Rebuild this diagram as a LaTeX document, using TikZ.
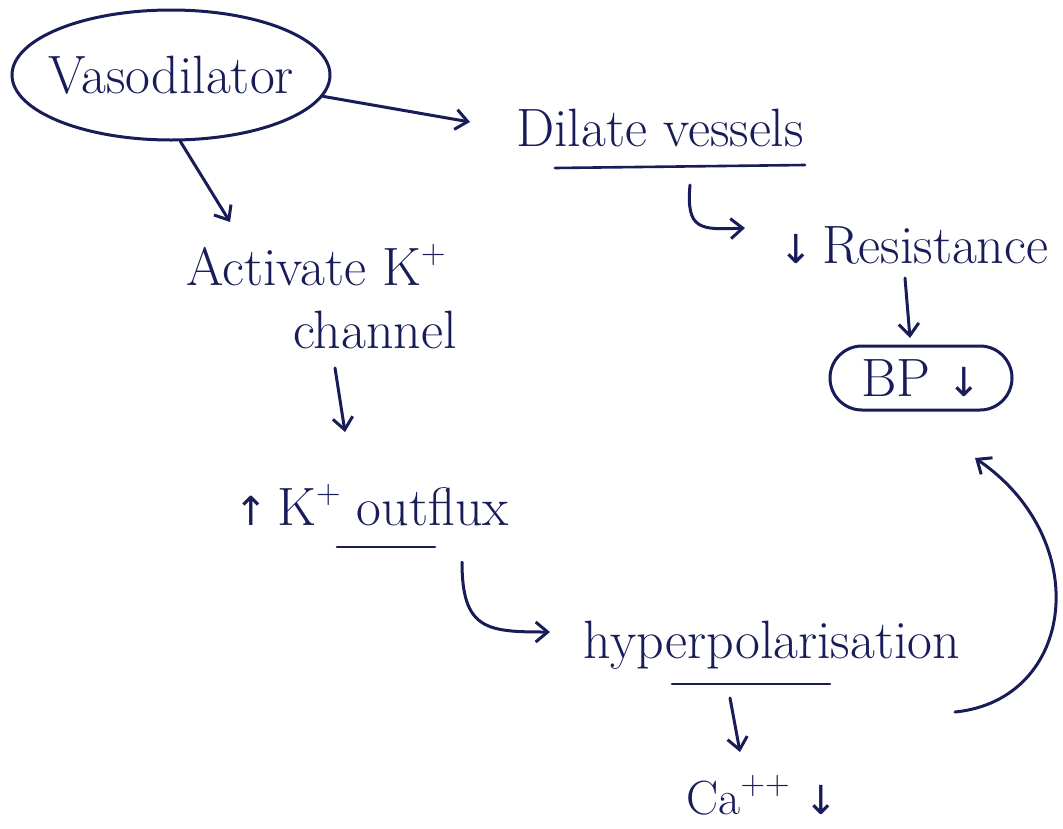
\documentclass[tikz,border=0pt]{standalone}
\usepackage{fontspec}
\newfontfamily\symf{DejaVu Sans}
\newcommand{\dn}{{\symf\fontsize{40}{44}\selectfont ↓}}
\newcommand{\up}{{\symf\fontsize{40}{44}\selectfont ↑}}
\newcommand{\supr}[1]{\raisebox{0.42em}{\fontsize{34}{36}\selectfont #1}}
\usetikzlibrary{arrows.meta,shapes.geometric}
\definecolor{ink}{RGB}{24,28,88}
\begin{document}
\begin{tikzpicture}[x=1pt,y=-1pt,
  every node/.style={text=ink,font=\fontsize{54}{60}\selectfont},
  lbl/.style={inner sep=2pt},
  arr/.style={draw=ink,line width=3pt,line cap=round,-{Straight Barb[length=12pt,width=20pt,line width=3pt]}},
  uline/.style={draw=ink,line width=2.6pt,line cap=round},
  oval/.style={draw=ink,line width=3pt,ellipse}]
\useasboundingbox[fill=white] (0,0) rectangle (1063,828);
% nodes
\node[oval,minimum width=318pt,minimum height=130pt,inner sep=0pt] (vaso) at (171,75) {\makebox[0pt]{Vasodilator}};
\node[lbl] (dil) at (660,128) {Dilate vessels};
\node[lbl] (res) at (914,245) {\dn\,Resistance};
\node[draw=ink,line width=3pt,rounded corners=32pt,minimum width=182pt,minimum height=64pt,inner sep=0pt] (bp) at (921,378) {\makebox[0pt]{BP \dn}};
\node[lbl] (act) at (316,265) {Activate K\supr{+}};
\node[lbl] (chan) at (375,330) {channel};
\node[lbl] (kout) at (372,505) {\up\,K\supr{+} outflux};
\node[lbl] (hyp) at (772,645) {hyperpolarisation};
\node[lbl,font=\fontsize{48}{52}\selectfont] (ca) at (762,795) {Ca\supr{++} \dn};
% underlines
\draw[uline] (555,168) -- (805,165);
\draw[uline] (337,547) -- (435,547);
\draw[uline] (672,684) -- (830,684);
% connectors
\draw[arr] (vaso.-8) -- ([shift={(-190,-6)}]dil.center);
\draw[arr] (vaso.-82) -- ([shift={(-86,-43)}]act.center);
\draw[arr] ([shift={(30,57)}]dil.center) .. controls ([shift={(26,102)}]dil.center) and ([shift={(40,102)}]dil.center) .. ([shift={(-169,-17)}]res.center);
\draw[arr] ([shift={(-9,33)}]res.center) -- ([shift={(-11,-40)}]bp.center);
\draw[arr] ([shift={(-40,38)}]chan.center) -- ([shift={(-27,-73)}]kout.center);
\draw[arr] ([shift={(90,57)}]kout.center) .. controls ([shift={(90,125)}]kout.center) and ([shift={(115,127)}]kout.center) .. ([shift={(-222,-13)}]hyp.center);
\draw[arr] ([shift={(-42,53)}]hyp.center) -- ([shift={(-22,-43)}]ca.center);
\draw[arr] ([shift={(183,67)}]hyp.center) .. controls (1075,700) and (1095,540) .. ([shift={(54,80)}]bp.center);
\end{tikzpicture}
\end{document}
